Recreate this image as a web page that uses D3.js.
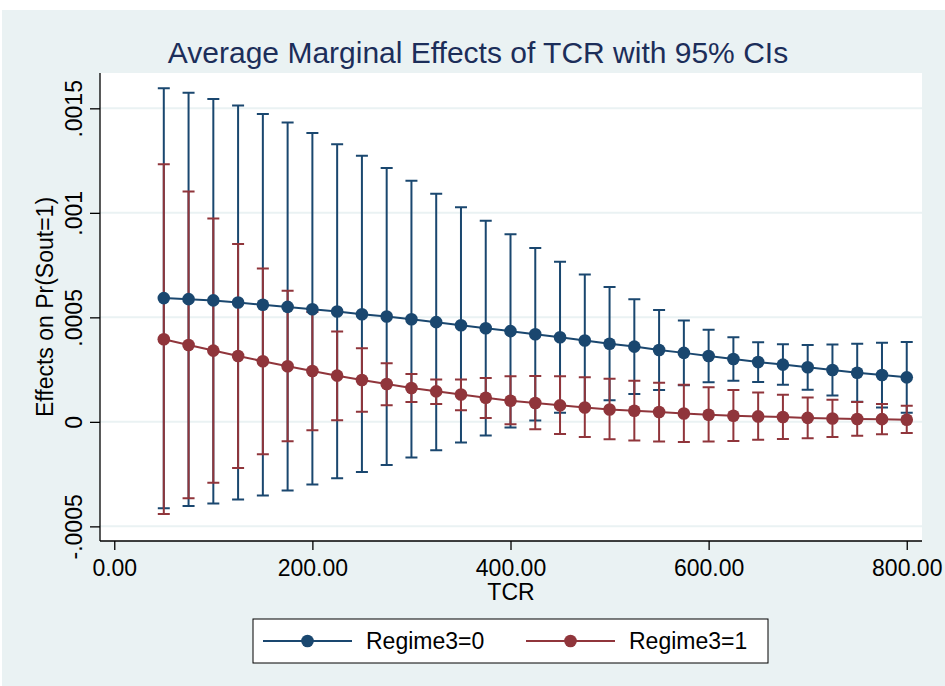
<!DOCTYPE html>
<html>
<head>
<meta charset="utf-8">
<script src="https://cdn.jsdelivr.net/npm/d3@7/dist/d3.min.js"></script>
<style>
  html, body { margin: 0; padding: 0; background: #fff; }
  svg { display: block; }
  text { font-family: "Liberation Sans", Arial, Helvetica, sans-serif; }
</style>
</head>
<body>
<div id="chart"></div>
<script>
// TCR values at which the margins were evaluated
var tcr = [50, 75, 100, 125, 150, 175, 200, 225, 250, 275, 300, 325, 350, 375, 400,
           425, 450, 475, 500, 525, 550, 575, 600, 625, 650, 675, 700, 725, 750, 775, 800];

// Regime3=0
var margin0 = [0.000592, 0.000587, 0.000581, 0.000571, 0.000560, 0.000550, 0.000539, 0.000528,
               0.000515, 0.000504, 0.000491, 0.000477, 0.000462, 0.000448, 0.000434, 0.000419,
               0.000405, 0.000389, 0.000374, 0.000360, 0.000344, 0.000330, 0.000315, 0.000301,
               0.000286, 0.000274, 0.000261, 0.000248, 0.000235, 0.000224, 0.000213];
var upper0 = [0.001596, 0.001574, 0.001545, 0.001513, 0.001473, 0.001432, 0.001382, 0.001328,
              0.001273, 0.001214, 0.001153, 0.001091, 0.001027, 0.000962, 0.000897, 0.000832,
              0.000766, 0.000705, 0.000645, 0.000587, 0.000535, 0.000485, 0.000441, 0.000405,
              0.000381, 0.000371, 0.000368, 0.000370, 0.000374, 0.000379, 0.000382];
var lower0 = [-0.000413, -0.000403, -0.000390, -0.000372, -0.000352, -0.000328, -0.000300, -0.000270,
              -0.000240, -0.000206, -0.000171, -0.000136, -0.000099, -0.000065, -0.000027, 0.000006,
              0.000044, 0.000073, 0.000103, 0.000133, 0.000153, 0.000175, 0.000189, 0.000197,
              0.000191, 0.000177, 0.000154, 0.000126, 0.000096, 0.000069, 0.000044];

// Regime3=1
var margin1 = [0.000395, 0.000368, 0.000341, 0.000315, 0.000290, 0.000266, 0.000243, 0.000221,
               0.000200, 0.000181, 0.000162, 0.000146, 0.000131, 0.000115, 0.000101, 0.000090,
               0.000079, 0.000069, 0.000059, 0.000053, 0.000047, 0.000040, 0.000034, 0.000029,
               0.000026, 0.000023, 0.000019, 0.000016, 0.000014, 0.000013, 0.000010];
var upper1 = [0.001233, 0.001102, 0.000973, 0.000851, 0.000734, 0.000627, 0.000526, 0.000432,
              0.000352, 0.000280, 0.000229, 0.000203, 0.000203, 0.000210, 0.000218, 0.000219,
              0.000218, 0.000214, 0.000206, 0.000197, 0.000187, 0.000178, 0.000165, 0.000152,
              0.000141, 0.000130, 0.000117, 0.000106, 0.000095, 0.000086, 0.000077];
var lower1 = [-0.000441, -0.000365, -0.000291, -0.000221, -0.000155, -0.000093, -0.000040, 0.000008,
              0.000048, 0.000080, 0.000095, 0.000086, 0.000055, 0.000019, -0.000011, -0.000035,
              -0.000058, -0.000073, -0.000083, -0.000089, -0.000094, -0.000096, -0.000094, -0.000091,
              -0.000086, -0.000082, -0.000078, -0.000072, -0.000067, -0.000059, -0.000053];

var seriesNames = ["Regime3=0", "Regime3=1"];
var xTicks = [0, 200, 400, 600, 800];
var yTicks = [-0.0005, 0, 0.0005, 0.001, 0.0015];

var W = 945, H = 686;
var plot = { left: 100, right: 922, top: 73, bottom: 541 };
var navy = "#1a476f", maroon = "#90353b", bgLight = "#eaf2f3";

var series = [
    { name: seriesNames[0], color: navy, m: margin0, lo: lower0, hi: upper0 },
    { name: seriesNames[1], color: maroon, m: margin1, lo: lower1, hi: upper1 }
];

var x = d3.scaleLinear().domain([-14.4, 815.4]).range([plot.left, plot.right]);
var y = d3.scaleLinear().domain([-0.00057, 0.001669]).range([plot.bottom, plot.top]);

var svg = d3.select("#chart").append("svg").attr("width", W).attr("height", H);

// graph region
svg.append("rect").attr("x", 2).attr("y", 10).attr("width", W - 2).attr("height", H - 10)
    .attr("fill", bgLight);
svg.append("rect").attr("x", plot.left).attr("y", plot.top)
    .attr("width", plot.right - plot.left).attr("height", plot.bottom - plot.top)
    .attr("fill", "#fff");

// gridlines
svg.append("g").selectAll("line").data(yTicks).enter().append("line")
    .attr("x1", plot.left).attr("x2", plot.right)
    .attr("y1", function (d) { return y(d); }).attr("y2", function (d) { return y(d); })
    .attr("stroke", bgLight).attr("stroke-width", 2);

function stataNum(d) {
    if (d === 0) return "0";
    return String(d).replace(/^(-?)0\./, "$1.");
}

// axes
var yAxis = svg.append("g").attr("transform", "translate(" + plot.left + ",0)")
    .call(d3.axisLeft(y).tickValues(yTicks).tickFormat(stataNum).tickSize(10));
yAxis.select(".domain").attr("d", "M0," + plot.top + "V" + plot.bottom);
yAxis.selectAll(".tick text")
    .attr("transform", "rotate(-90)")
    .attr("x", 0).attr("y", -18).attr("dy", "0")
    .attr("text-anchor", "middle");

var xAxis = svg.append("g").attr("transform", "translate(0," + plot.bottom + ")")
    .call(d3.axisBottom(x).tickValues(xTicks).tickFormat(d3.format(".2f")).tickSize(9).tickPadding(10));
xAxis.select(".domain").attr("d", "M" + plot.left + ",0H" + plot.right);

[yAxis, xAxis].forEach(function (a) {
    a.selectAll(".domain, .tick line").attr("stroke", "#000").attr("stroke-width", 1.3);
    a.selectAll("text").attr("fill", "#000").style("font-size", "23px")
        .style("font-family", "'Liberation Sans', Arial, sans-serif");
});

// axis titles and title
svg.append("text").attr("x", (plot.left + plot.right) / 2).attr("y", 600)
    .attr("text-anchor", "middle").style("font-size", "23px").text("TCR");
svg.append("text").attr("transform", "translate(53," + ((plot.top + plot.bottom) / 2) + ") rotate(-90)")
    .attr("text-anchor", "middle").style("font-size", "23px").text("Effects on Pr(Sout=1)");
svg.append("text").attr("x", 478).attr("y", 63).attr("text-anchor", "middle")
    .attr("fill", "#1c2e5a").style("font-size", "30px")
    .text("Average Marginal Effects of TCR with 95% CIs");

// confidence intervals
var capW = 6;
series.forEach(function (s) {
    var g = svg.append("g").attr("stroke", s.color).attr("stroke-width", 2).attr("fill", "none");
    g.selectAll("path").data(tcr).enter().append("path")
        .attr("d", function (d, i) {
            var cx = x(d), y0 = y(s.lo[i]), y1 = y(s.hi[i]);
            return "M" + cx + "," + y0 + "V" + y1 +
                "M" + (cx - capW) + "," + y1 + "H" + (cx + capW) +
                "M" + (cx - capW) + "," + y0 + "H" + (cx + capW);
        });
});

// connected margins
var line = d3.line().x(function (d) { return x(d[0]); }).y(function (d) { return y(d[1]); });
series.forEach(function (s) {
    var pts = tcr.map(function (t, i) { return [t, s.m[i]]; });
    svg.append("path").datum(pts).attr("d", line)
        .attr("fill", "none").attr("stroke", s.color).attr("stroke-width", 2);
    svg.append("g").selectAll("circle").data(pts).enter().append("circle")
        .attr("cx", function (d) { return x(d[0]); })
        .attr("cy", function (d) { return y(d[1]); })
        .attr("r", 6.3).attr("fill", s.color);
});

// legend
var leg = svg.append("g");
leg.append("rect").attr("x", 253).attr("y", 619).attr("width", 515).attr("height", 44)
    .attr("fill", "#fff").attr("stroke", "#000").attr("stroke-width", 1);
var legX = [263, 526];
series.forEach(function (s, i) {
    var gx = legX[i];
    leg.append("line").attr("x1", gx).attr("x2", gx + 89).attr("y1", 641).attr("y2", 641)
        .attr("stroke", s.color).attr("stroke-width", 2);
    leg.append("circle").attr("cx", gx + 44.5).attr("cy", 641).attr("r", 6.3).attr("fill", s.color);
    leg.append("text").attr("x", gx + 103).attr("y", 649).style("font-size", "23px")
        .attr("fill", "#000").text(s.name);
});
</script>
</body>
</html>
